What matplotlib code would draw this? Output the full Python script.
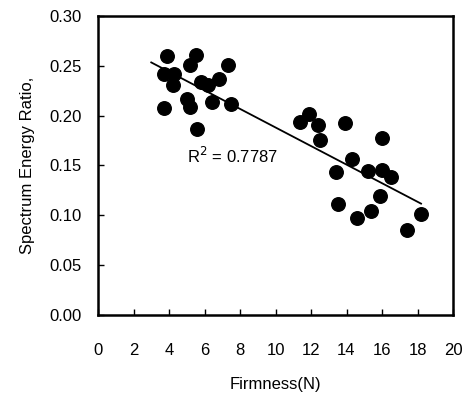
import numpy as np
import matplotlib
matplotlib.use('agg')
import matplotlib.pyplot as plt

plt.rcParams['font.family'] = ['Liberation Sans', 'DejaVu Sans']

# firmness (N) and spectrum energy ratio
firmness = [3.9, 5.5, 7.3, 5.2, 3.7, 4.3, 4.2, 5.8, 6.2, 6.8, 7.5, 6.4, 5.0, 5.2, 3.7, 5.6,
            11.9, 11.4, 12.4, 12.5, 13.9, 16.0, 14.3, 13.4, 15.2, 16.0, 16.5, 15.9,
            13.5, 15.4, 14.6, 18.2, 17.4]
ratio = [0.260, 0.261, 0.251, 0.251, 0.242, 0.242, 0.231, 0.234, 0.231, 0.237, 0.212, 0.214,
         0.217, 0.209, 0.208, 0.187,
         0.202, 0.194, 0.191, 0.176, 0.193, 0.178, 0.157, 0.143, 0.144, 0.145, 0.138, 0.119,
         0.111, 0.104, 0.097, 0.101, 0.085]
line_x = [3.0, 18.2]

fig = plt.figure(figsize=(4.7, 3.99), dpi=100)
ax = fig.add_axes([98 / 470, 1 - 315 / 399, 355 / 470, 299 / 399])

ax.scatter(firmness, ratio, s=95, c='black', zorder=3)

slope, intercept = np.polyfit(firmness, ratio, 1)
lx = np.array(line_x)
ax.plot(lx, slope * lx + intercept, color='black', lw=1.3)

ax.text(5.0, 0.160, 'R$^2$ = 0.7787', fontsize=12, va='center', ha='left')

ax.set_xlim(0, 20)
ax.set_ylim(0, 0.30)
ax.set_xticks(np.arange(0, 21, 2))
ax.set_yticks(np.arange(0, 0.31, 0.05))
ax.set_yticklabels(['%.2f' % v for v in np.arange(0, 0.31, 0.05)])
ax.tick_params(direction='in', length=4, width=1, labelsize=12)
ax.tick_params(axis='x', pad=20)
ax.tick_params(axis='y', pad=12)
for sp in ax.spines.values():
    sp.set_linewidth(1.8)

ax.set_xlabel('Firmness(N)', fontsize=12, labelpad=14)
ax.set_ylabel('Spectrum Energy Ratio,', fontsize=12, labelpad=10)

fig.savefig('out.png', dpi=100)
